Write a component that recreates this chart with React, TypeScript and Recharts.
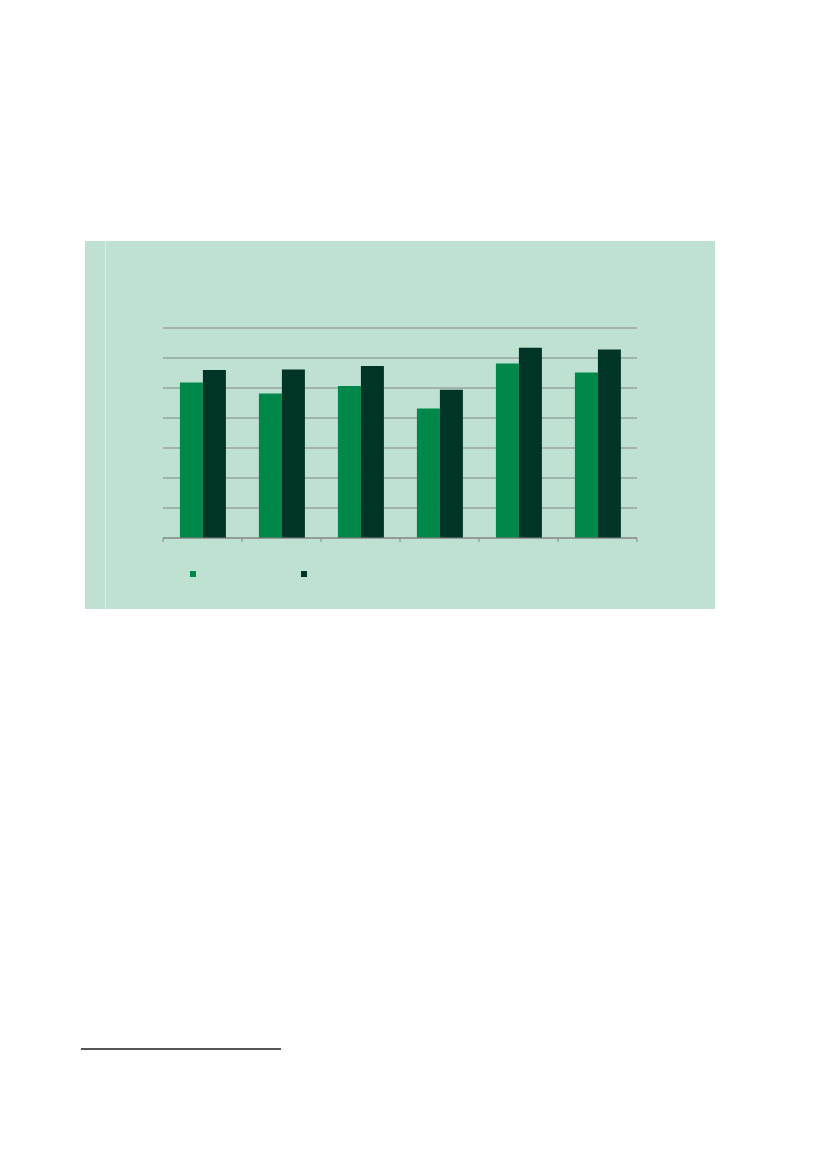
import React from 'react';
import { BarChart, Bar, XAxis, YAxis, CartesianGrid, Legend } from 'recharts';

const categories = ['c1', 'c2', 'c3', 'c4', 'c5', 'c6'];
const seriesA = [51.8, 48.2, 50.7, 43.2, 58.2, 55.2];
const seriesB = [56.0, 56.2, 57.3, 49.4, 63.4, 62.8];
const yTicks = [0, 10, 20, 30, 40, 50, 60, 70];

const data = categories.map((name, i) => ({ name, a: seriesA[i], b: seriesB[i] }));

// tick marks sit on the band edges, not on the band centres
const EdgeTick = (props: any) => {
    const { x, y, payload, index } = props;
    const half = payload && payload.offset ? payload.offset : 0;
    const last = index === categories.length - 1;
    return (
        <g>
            <line x1={x - half} x2={x - half} y1={y} y2={y + 4} stroke='#858585' />
            {last && <line x1={x + half} x2={x + half} y1={y} y2={y + 4} stroke='#858585' />}
        </g>
    );
};

const LegendSquares = (props: any) => {
    const items = props.payload || [];
    return (
        <div style={{ display: 'flex', height: 6 }}>
            {items.map((p: any, i: number) => (
                <div
                    key={i}
                    style={{ width: 6, height: 6, background: p.color, marginRight: i === 0 ? 105 : 0 }}
                />
            ))}
        </div>
    );
};

const App = () => {
    return (
        <div style={{ position: 'absolute', left: 0, top: 0, width: 827, height: 1169, background: '#fff' }}>
            <div
                style={{
                    position: 'absolute',
                    left: 85,
                    top: 241,
                    width: 630,
                    height: 368,
                    background: '#BFE1D2',
                }}
            />
            <div style={{ position: 'absolute', left: 105, top: 241, width: 1, height: 368, background: '#D6EEE3' }} />
            <div style={{ position: 'absolute', left: 85, top: 241 }}>
                <BarChart
                    width={630}
                    height={368}
                    data={data}
                    barGap={0}
                    barCategoryGap='21.4%'
                    margin={{ top: 87, right: 78, bottom: 35, left: 78 }}
                >
                    <CartesianGrid vertical={false} stroke='#858585' strokeWidth={1.2} />
                    <XAxis
                        dataKey='name'
                        height={30}
                        stroke='#858585'
                        tickLine={false}
                        tickSize={0}
                        tickMargin={0}
                        interval={0}
                        tick={EdgeTick}
                    />
                    <YAxis hide domain={[0, 70]} ticks={yTicks} />
                    <Legend
                        content={LegendSquares}
                        wrapperStyle={{ position: 'absolute', left: 105, top: 330, width: 200 }}
                    />
                    <Bar dataKey='a' fill='#00874A' isAnimationActive={false} />
                    <Bar dataKey='b' fill='#003427' isAnimationActive={false} />
                </BarChart>
            </div>
            <div style={{ position: 'absolute', left: 81, top: 1048, width: 200, height: 1.5, background: '#555' }} />
        </div>
    );
};

export default App;
